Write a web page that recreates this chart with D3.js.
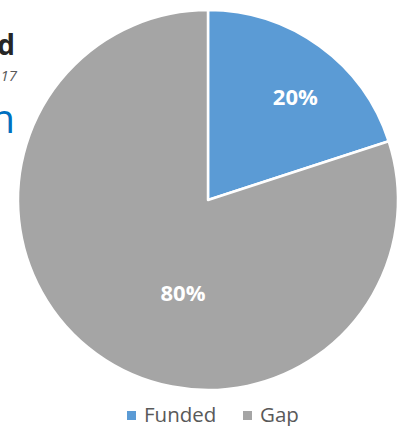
<!DOCTYPE html>
<html><head><meta charset="utf-8">
<script src="https://cdn.jsdelivr.net/npm/d3@7"></script>
<style>html,body{margin:0;padding:0;background:#fff;overflow:hidden}</style>
</head><body>
<svg id="c" width="404" height="426"></svg>
<script>
const categories = ["Funded", "Gap"];
const values = [20, 80];
const labels = ["20%", "80%"];
const colors = ["#5B9BD5", "#A5A5A5"];

const svg = d3.select("#c");
const cx = 208, cy = 200, R = 190;

// clipped background text fragments
svg.append("text").attr("x", 15).attr("y", 55).attr("text-anchor", "end")
  .attr("font-family", "Open Sans").attr("font-weight", "bold").attr("font-size", 28).attr("fill", "#262626").text("d");
svg.append("text").attr("x", 17).attr("y", 81).attr("text-anchor", "end")
  .attr("font-family", "Open Sans").attr("font-style", "italic").attr("font-size", 15).attr("fill", "#595959").text("17");
svg.append("text").attr("x", 15).attr("y", 133).attr("text-anchor", "end")
  .attr("font-family", "Open Sans").attr("font-size", 40).attr("fill", "#0070C0").text("n");

const pie = d3.pie().sort(null).value(d => d)(values);
const arc = d3.arc().innerRadius(0).outerRadius(R);
const g = svg.append("g").attr("transform", `translate(${cx},${cy})`);
g.selectAll("path").data(pie).join("path")
  .attr("d", arc).attr("fill", (d, i) => colors[i])
  .attr("stroke", "#fff").attr("stroke-width", 2.5).attr("stroke-linejoin", "round");

// Excel best-fit label placement: fraction along slice, radius fraction
const labelFrac = [0.56, 0.427];
const labelRad = [0.71, 0.51];
g.selectAll("text.lbl").data(pie).join("text").attr("class", "lbl")
  .attr("transform", (d, i) => {
    const a = d.startAngle + (d.endAngle - d.startAngle) * labelFrac[i];
    const x = Math.sin(a) * R * labelRad[i], y = -Math.cos(a) * R * labelRad[i];
    return `translate(${x},${y})`;
  })
  .attr("text-anchor", "middle").attr("dy", "0.35em")
  .attr("font-family", "Open Sans").attr("font-weight", "bold").attr("font-size", 22)
  .attr("fill", "#fff").text((d, i) => labels[i]);

// legend
const lx = d3.scalePoint().domain(categories).range([127, 243]);
const lg = svg.append("g");
categories.forEach((c, i) => {
  lg.append("rect").attr("x", lx(c)).attr("y", 411).attr("width", 9).attr("height", 9).attr("fill", colors[i]);
  lg.append("text").attr("x", lx(c) + 17).attr("y", 421.5)
    .attr("font-family", "Open Sans").attr("font-size", 20.5).attr("fill", "#595959").text(c);
});
</script>
</body></html>
